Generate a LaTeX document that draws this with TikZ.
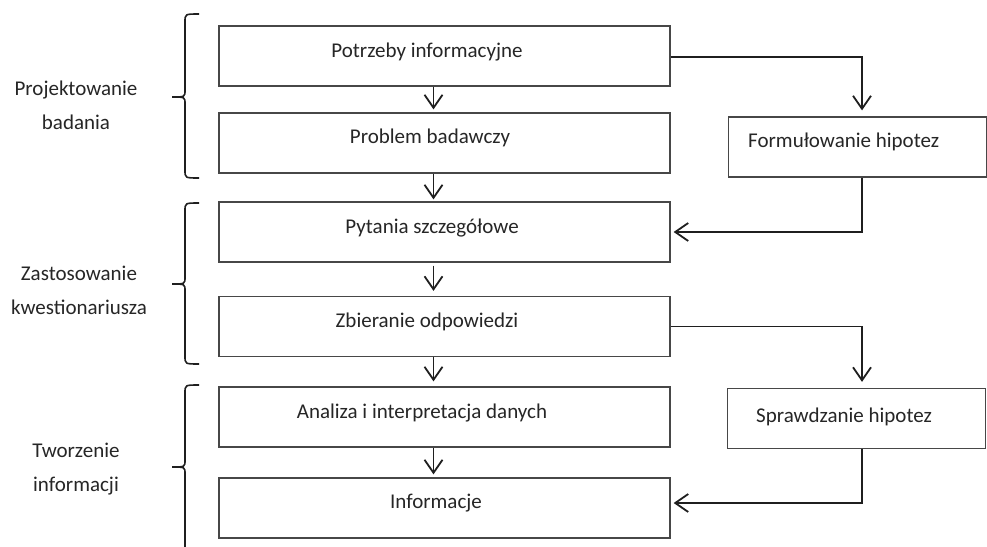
\documentclass[tikz,border=0pt]{standalone}
\usepackage{fontspec}
\setmainfont{Carlito}
\usetikzlibrary{arrows.meta,calc}
\tikzset{
  box/.style={draw=black!72,line width=1.3pt,minimum width=451pt,minimum height=60pt,inner sep=0pt},
  rbox/.style={draw=black!72,line width=1.3pt,minimum width=258pt,minimum height=60pt,inner sep=0pt},
  txt/.style={font=\fontsize{21}{34}\selectfont,text=black!85,inner sep=0pt},
  lbl/.style={font=\fontsize{21}{34}\selectfont,text=black!85,align=center,inner sep=0pt},
  arr/.style={draw=black!88,line width=1.8pt,-{Straight Barb[length=13pt,width=18pt,line width=1.8pt]}},
  brace/.style={draw=black!88,line width=1.6pt}
}
\begin{document}
\begin{tikzpicture}[x=1pt,y=-1pt]
\useasboundingbox[fill=white] (0,0) rectangle (987,546);
% left boxes
\node[box] (b1) at (444.5,56) {};
\node[box] (b2) at (444.5,143) {};
\node[box] (b3) at (444.5,232) {};
\node[box] (b4) at (444.5,326.5) {};
\node[box] (b5) at (444.5,417) {};
\node[box] (b6) at (444.5,508) {};
% right boxes
\node[rbox] (f) at (857.5,147) {};
\node[rbox] (s) at (856.5,418.5) {};
% texts
\node[txt] (t1) at (427,52) {Potrzeby informacyjne};
\node[txt] (t2) at (430,138) {Problem badawczy};
\node[txt] (t3) at (432,228) {Pytania szczegółowe};
\node[txt] (t4) at (427,322) {Zbieranie odpowiedzi};
\node[txt] (t5) at (422,413) {Analiza i interpretacja danych};
\node[txt] (t6) at (436,503) {Informacje};
\node[txt,anchor=west] (tf) at (748,142) {Formułowanie hipotez};
\node[txt,anchor=west] (ts) at (756,417) {Sprawdzanie hipotez};
% side labels
\node[lbl] (l1) at (76,105) {Projektowanie\\badania};
\node[lbl] (l2) at (79,290) {Zastosowanie\\kwestionariusza};
\node[lbl] (l3) at (76,469) {Tworzenie\\informacji};
% braces
\draw[brace] (199,14) .. controls (185,14) .. (185,22) -- (185,90) .. controls (185,97) .. (172,97) .. controls (185,97) .. (185,104) -- (185,170) .. controls (185,178) .. (199,178);
\draw[brace] (199,203) .. controls (185,203) .. (185,211) -- (185,277) .. controls (185,284) .. (172,284) .. controls (185,284) .. (185,291) -- (185,356) .. controls (185,364) .. (199,364);
\draw[brace] (199,385) .. controls (185,385) .. (185,393) -- (185,460) .. controls (185,467) .. (172,467) .. controls (185,467) .. (185,474) -- (185,547);
% vertical arrows
\draw[arr,shorten >=3pt] ([xshift=-11pt]b1.south) -- ([xshift=-11pt]b2.north);
\draw[arr,shorten >=2pt] ([xshift=-11pt]b2.south) -- ([xshift=-11pt]b3.north);
\draw[arr,shorten <=3pt,shorten >=5pt] ([xshift=-11pt]b3.south) -- ([xshift=-11pt]b4.north);
\draw[arr,shorten >=5pt] ([xshift=-11pt]b4.south) -- ([xshift=-11pt]b5.north);
\draw[arr,shorten >=3pt] ([xshift=-11pt]b5.south) -- ([xshift=-11pt]b6.north);
% side connectors
\draw[arr,shorten >=6pt] ([yshift=-1pt]b1.east) -| ([xshift=4.5pt]f.north);
\draw[arr,shorten >=3pt] ([xshift=4.5pt]f.south) |- (b3.east);
\draw[arr,shorten >=6pt] (b4.east) -| ([xshift=5.5pt]s.north);
\draw[arr,shorten >=3pt] ([xshift=5.5pt]s.south) |- ([yshift=5pt]b6.east);
\end{tikzpicture}
\end{document}
